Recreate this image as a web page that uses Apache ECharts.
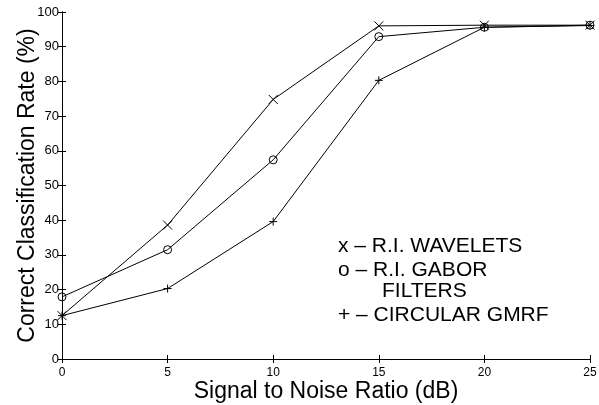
<!DOCTYPE html>
<html><head><meta charset="utf-8">
<script src="https://cdn.jsdelivr.net/npm/echarts@6/dist/echarts.min.js"></script>
<style>html,body{margin:0;padding:0;background:#fff}#c{width:599px;height:405px}</style>
</head><body><div id="c"></div>
<script>
const snr = [0, 5, 10, 15, 20, 25];
const wavelets = [12.5, 38.6, 74.8, 96.0, 96.2, 96.2];
const gabor = [17.9, 31.5, 57.4, 92.9, 95.6, 96.2];
const gmrf = [12.5, 20.3, 39.6, 80.3, 95.6, 96.1];
const legendLines = ['x \u2013 R.I. WAVELETS', 'o \u2013 R.I. GABOR', 'FILTERS', '+ \u2013 CIRCULAR GMRF'];

const FONT = '"Liberation Sans", Arial, sans-serif';
const pair = a => snr.map((x, i) => [x, a[i]]);
const crossSym = 'path://M0,0L10,10M10,0L0,10';
const plusSym = 'path://M5,0L5,10M0,5L10,5';

const chart = echarts.init(document.getElementById('c'), null, {renderer: 'canvas'});
const axBase = {
  type: 'value',
  axisLine: {show: true, lineStyle: {color: '#000', width: 1}},
  axisTick: {show: true, inside: true, length: 4, lineStyle: {color: '#000'}},
  splitLine: {show: false}
};
const lineSeries = (name, data, sym, size) => ({
  name, type: 'line', data: pair(data), xAxisIndex: 0, yAxisIndex: 0,
  symbol: sym, symbolSize: size, showAllSymbol: true,
  lineStyle: {color: '#000', width: 1},
  itemStyle: {color: 'transparent', borderColor: '#000', borderWidth: 1},
  animation: false
});
chart.setOption({
  animation: false,
  backgroundColor: '#fff',
  grid: {left: 62, right: 9, top: 12, bottom: 46, containLabel: false, outerBoundsMode: 'none'},
  xAxis: [
    Object.assign({}, axBase, {min: 0, max: 25, interval: 5, position: 'bottom',
      name: 'Signal to Noise Ratio (dB)', nameLocation: 'middle', nameGap: 21, nameMoveOverlap: false,
      nameTextStyle: {fontFamily: FONT, fontSize: 23, color: '#000'},
      axisLabel: {fontFamily: FONT, fontSize: 12, color: '#000', margin: 8}}),
    Object.assign({}, axBase, {min: 0, max: 25, interval: 5, position: 'top',
      axisLabel: {show: false}})
  ],
  yAxis: [
    Object.assign({}, axBase, {min: 0, max: 100, interval: 10, position: 'left',
      name: 'Correct Classification Rate (%)', nameLocation: 'middle', nameGap: 23, nameMoveOverlap: false,
      nameTextStyle: {fontFamily: FONT, fontSize: 23, color: '#000'},
      axisLabel: {fontFamily: FONT, fontSize: 13, color: '#000', margin: 3}}),
    Object.assign({}, axBase, {min: 0, max: 100, interval: 10, position: 'right',
      axisLabel: {show: false}})
  ],
  series: [
    lineSeries('R.I. WAVELETS', wavelets, crossSym, 9),
    lineSeries('R.I. GABOR FILTERS', gabor, 'circle', 8),
    lineSeries('CIRCULAR GMRF', gmrf, plusSym, 8)
  ],
  graphic: [
    {type: 'text', left: 338, top: 236, style: {text: legendLines[0], font: '21px ' + FONT, fill: '#000'}},
    {type: 'text', left: 338, top: 260, style: {text: legendLines[1], font: '21px ' + FONT, fill: '#000'}},
    {type: 'text', left: 382, top: 281, style: {text: legendLines[2], font: '21px ' + FONT, fill: '#000'}},
    {type: 'text', left: 338, top: 305, style: {text: legendLines[3], font: '21px ' + FONT, fill: '#000'}}
  ]
});
</script></body></html>
